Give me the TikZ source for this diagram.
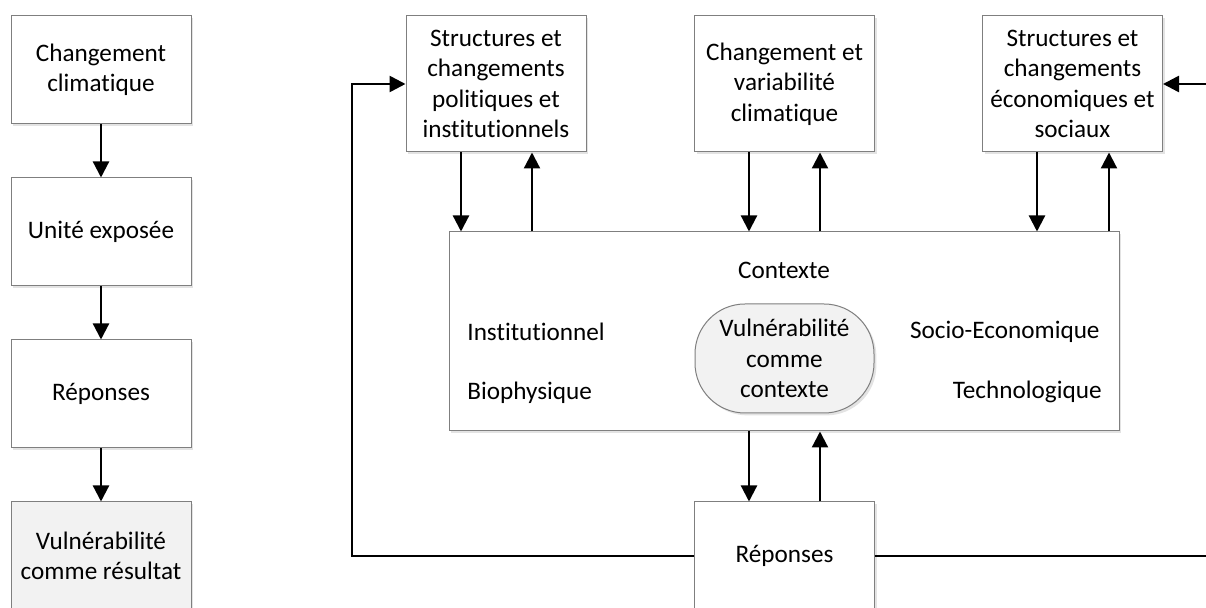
\documentclass[tikz,border=0pt]{standalone}
\usepackage{fontspec}
\setmainfont{Carlito}[Ligatures=NoCommon]
\usetikzlibrary{arrows.meta,shadows}
\definecolor{boxline}{HTML}{7F7F7F}
\definecolor{lightfill}{HTML}{F2F2F2}
\tikzset{
  box/.style={draw=boxline, line width=0.5pt, fill=white, align=center,
    minimum width=90pt, minimum height=54pt, inner sep=2pt,
    font=\fontsize{12.6}{15.2}\selectfont,
    drop shadow={shadow xshift=1.2pt, shadow yshift=-1.2pt, fill=black!18, opacity=0.6}},
  tallbox/.style={box, minimum height=68pt},
  lbl/.style={inner sep=0pt, font=\fontsize{12.6}{15.2}\selectfont},
  arr/.style={line width=1.1pt, -{Triangle[width=8pt,length=8pt]}},
  fbarr/.style={line width=1.3pt, -{Triangle[width=8pt,length=8pt]}}
}
\begin{document}
\begin{tikzpicture}[x=0.5pt,y=-0.5pt]
\useasboundingbox (0,0) rectangle (1206,608);
\fill[white] (0,0) rectangle (1206,608);
% left column
\node[box] (L1) at (101,70) {Changement\\climatique};
\node[box] (L2) at (101,232) {Unité exposée};
\node[box] (L3) at (101,394) {Réponses};
\node[box, fill=lightfill] (L4) at (101,556) {Vulnérabilité\\comme résultat};
\draw[arr] (L1) -- (L2);
\draw[arr] (L2) -- (L3);
\draw[arr] (L3) -- (L4);
% top row
\node[tallbox] (A) at (496,84) {Structures et\\changements\\politiques et\\institutionnels};
\node[tallbox] (B) at (784.5,84) {Changement et\\variabilité\\climatique};
\node[tallbox] (C) at (1072.5,84) {Structures et\\changements\\économiques et\\sociaux};
% context
\node[box, minimum width=335pt, minimum height=99.5pt] (ctx) at (784,331.5) {};
\node[lbl] (ctxt) at (784,270) {Contexte};
\node[lbl, anchor=west] (inst) at (467,332) {Institutionnel};
\node[lbl, anchor=west] (bio) at (467,393) {Biophysique};
\node[lbl, anchor=east] (soc) at (1100,332) {Socio-Economique};
\node[lbl, anchor=east] (tech) at (1102,392) {Technologique};
\node[box, fill=lightfill, minimum width=89.5pt, minimum height=54.5pt, rounded corners=25pt] (vul) at (784.5,358.5) {Vulnérabilité\\comme\\contexte};
% responses
\node[box] (R) at (784.5,556) {Réponses};
% arrows top
\draw[arr] ([xshift=-17.5pt]A.south) -- ([xshift=-17.5pt]A.south |- ctx.north);
\draw[arr] ([xshift=18pt]A.south |- ctx.north) -- ([xshift=18pt]A.south);
\draw[arr] ([xshift=-17.75pt]B.south) -- ([xshift=-17.75pt]B.south |- ctx.north);
\draw[arr] ([xshift=17.75pt]B.south |- ctx.north) -- ([xshift=17.75pt]B.south);
\draw[arr] ([xshift=-17.75pt]C.south) -- ([xshift=-17.75pt]C.south |- ctx.north);
\draw[arr] ([xshift=18.25pt]C.south |- ctx.north) -- ([xshift=18.25pt]C.south);
% arrows bottom
\draw[arr] ([xshift=-17.75pt]R.north |- ctx.south) -- ([xshift=-17.75pt]R.north);
\draw[arr] ([xshift=17.75pt]R.north) -- ([xshift=17.75pt]R.north |- ctx.south);
% feedback loops
\coordinate (lft) at (352,0);
\coordinate (rgt) at (1216,0);
\draw[fbarr] (R.west) -- (R.west -| lft) -- (A.west -| lft) -- (A.west);
\draw[fbarr] (R.east) -- (R.east -| rgt) -- (C.east -| rgt) -- (C.east);
\end{tikzpicture}
\end{document}
